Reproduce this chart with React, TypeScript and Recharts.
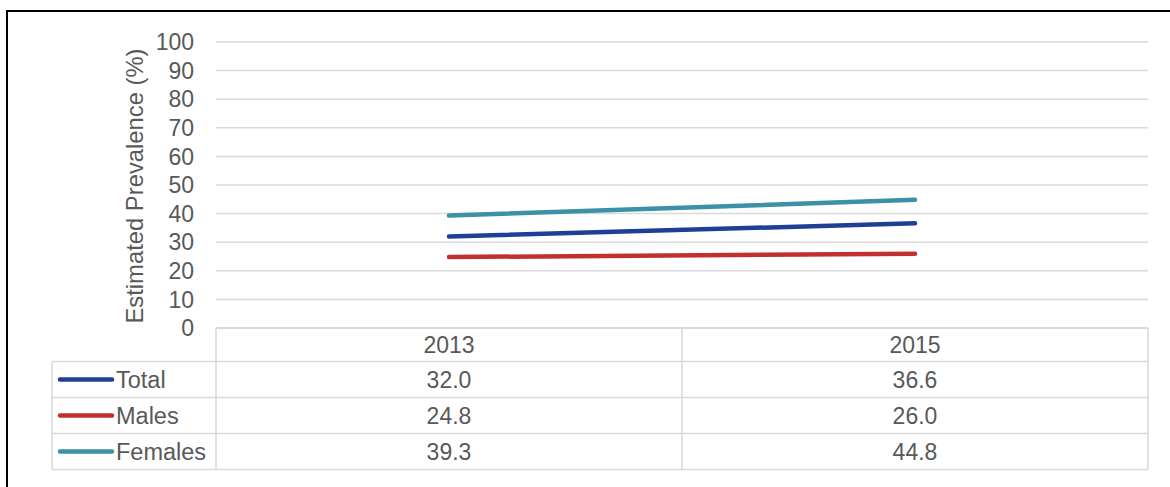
import React from "react"
import { LineChart, Line, XAxis, YAxis, CartesianGrid } from "recharts"

const years = ["2013", "2015"]
const total = [32.0, 36.6]
const males = [24.8, 26.0]
const females = [39.3, 44.8]
const yTicks = [0, 10, 20, 30, 40, 50, 60, 70, 80, 90, 100]

const series = [
  { key: "total", name: "Total", values: total, color: "#1F3F94" },
  { key: "males", name: "Males", values: males, color: "#C22F2F" },
  { key: "females", name: "Females", values: females, color: "#3A91A8" },
]

const data = years.map((year, i) => ({
  year,
  total: total[i],
  males: males[i],
  females: females[i],
}))

const FONT = "'Liberation Sans', Arial, sans-serif"
const TEXT = "#595959"
const GRID = "#D9D9D9"
const FS = 23

// table geometry (matches the plot area of the chart)
const tableLeft = 52
const plotLeft = 216
const plotRight = 1148
const headerTop = 328
const rowTops = [361.5, 397.5, 433.5]
const rowH = 36
const colW = (plotRight - plotLeft) / years.length

const YLabel = ({ viewBox }: any) => {
  const cx = viewBox.x + viewBox.width / 2 - 52
  const cy = viewBox.y + viewBox.height / 2 + 1
  return (
    <text
      x={cx}
      y={cy}
      transform={`rotate(-90, ${cx}, ${cy})`}
      textAnchor="middle"
      dominantBaseline="central"
      fill={TEXT}
      fontSize={23.8}
      fontFamily={FONT}
    >
      Estimated Prevalence (%)
    </text>
  )
}

export default function App() {
  const tableBottom = rowTops[rowTops.length - 1] + rowH
  return (
    <div style={{ position: "absolute", left: 0, top: 0, width: 1170, height: 487, background: "#fff", overflow: "hidden" }}>
      {/* outer frame */}
      <div style={{ position: "absolute", left: 6, top: 10, width: 1200, height: 500, borderTop: "2px solid #000", borderLeft: "2px solid #000" }} />

      <div style={{ position: "absolute", left: 0, top: 0 }}>
        <LineChart width={1170} height={487} data={data} margin={{ top: 42, right: 22, left: 156, bottom: 129 }}>
          <CartesianGrid vertical={false} stroke={GRID} strokeWidth={1.5} />
          <XAxis
            dataKey="year"
            padding={{ left: colW / 2, right: colW / 2 }}
            axisLine={{ stroke: GRID, strokeWidth: 1.5 }}
            tickLine={false}
            tickSize={0}
            tickMargin={9}
            height={30}
            tick={{ fill: TEXT, fontSize: FS, fontFamily: FONT }}
          />
          <YAxis
            domain={[0, 100]}
            ticks={yTicks}
            width={60}
            axisLine={false}
            tickLine={false}
            tickSize={0}
            tickMargin={22}
            interval={0}
            tick={{ fill: TEXT, fontSize: FS, fontFamily: FONT }}
            label={<YLabel />}
          />
          {series.map((s) => (
            <Line
              key={s.key}
              dataKey={s.key}
              name={s.name}
              stroke={s.color}
              strokeWidth={4.5}
              strokeLinecap="round"
              dot={false}
              activeDot={false}
              isAnimationActive={false}
            />
          ))}
        </LineChart>
      </div>

      {/* data table */}
      <svg width={1170} height={487} style={{ position: "absolute", left: 0, top: 0, pointerEvents: "none" }}>
        <g stroke={GRID} strokeWidth={1.5}>
          <line x1={plotLeft} y1={headerTop} x2={plotRight} y2={headerTop} />
          {rowTops.map((t) => (
            <line key={t} x1={tableLeft} y1={t} x2={plotRight} y2={t} />
          ))}
          <line x1={tableLeft} y1={tableBottom} x2={plotRight} y2={tableBottom} />
          <line x1={tableLeft} y1={rowTops[0]} x2={tableLeft} y2={tableBottom} />
          {[0, 1, 2].map((i) => (
            <line key={i} x1={plotLeft + i * colW} y1={headerTop} x2={plotLeft + i * colW} y2={tableBottom} />
          ))}
        </g>
        {series.map((s, r) => {
          const cy = rowTops[r] + rowH / 2
          return (
            <g key={s.key}>
              <line x1={60} y1={cy} x2={112} y2={cy} stroke={s.color} strokeWidth={4.5} strokeLinecap="round" />
              <text x={116} y={cy} dominantBaseline="central" fill={TEXT} fontSize={23.5} fontFamily={FONT}>
                {s.name}
              </text>
              {s.values.map((v, c) => (
                <text
                  key={c}
                  x={plotLeft + colW * (c + 0.5)}
                  y={cy}
                  textAnchor="middle"
                  dominantBaseline="central"
                  fill={TEXT}
                  fontSize={FS}
                  fontFamily={FONT}
                >
                  {v.toFixed(1)}
                </text>
              ))}
            </g>
          )
        })}
      </svg>
    </div>
  )
}
